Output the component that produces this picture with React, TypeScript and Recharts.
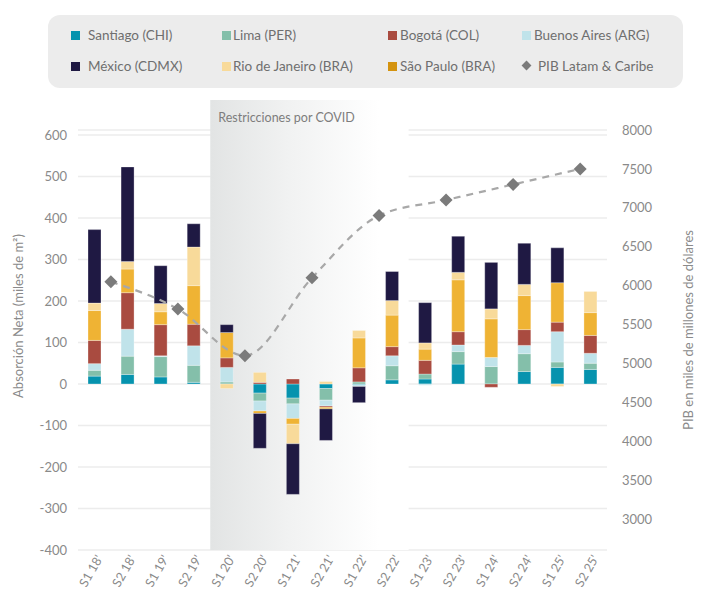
import React from "react";
import {
  ComposedChart,
  Bar,
  Line,
  XAxis,
  YAxis,
  CartesianGrid,
  ReferenceArea,
} from "recharts";

// semestres (eje X de las barras)
const periods = [
  "S1 18'", "S2 18'", "S1 19'", "S2 19'", "S1 20'", "S2 20'", "S1 21'", "S2 21'",
  "S1 22'", "S2 22'", "S1 23'", "S2 23'", "S1 24'", "S2 24'", "S1 25'", "S2 25'",
];

// absorción neta, miles de m2
const santiago = [19, 23, 17, 4, 0, -22, -34, -11, -2, 10, 12, 48, 0, 30, 40, 35];
const lima = [14, 44, 49, 41, 5, -19, -14, -28, 5, 34, 12, 30, 42, 43, 13, 15];
const buenosAires = [16, 65, 2, 47, 35, -24, -35, -14, -4, 24, -3, 16, 22, 20, 73, 24];
const bogota = [56, 88, 75, 52, 23, 4, 12, -3, 34, 22, 33, 32, -8, 38, 23, 43];
const saoPaulo = [72, 57, 31, 93, 61, -6, -14, -4, 72, 76, 27, 125, 93, 82, 95, 55];
const rio = [18, 18, 20, 93, -11, 24, -47, 6, 18, 35, 15, 18, 24, 27, -6, 51];
const mexico = [177, 228, 91, 56, 19, -84, -122, -76, -39, 70, 97, 87, 112, 99, 84, 0];

// PIB Latam & Caribe (anual)
const years = [2018, 2019, 2020, 2021, 2022, 2023, 2024, 2025];
const pib = [6050, 5700, 5100, 6100, 6900, 7100, 7300, 7500];

const leftTicks = [-400, -300, -200, -100, 0, 100, 200, 300, 400, 500, 600];
const rightTicks = [3000, 3500, 4000, 4500, 5000, 5500, 6000, 6500, 7000, 7500, 8000];

const data = periods.map((period, i) => ({
  period,
  santiago: santiago[i],
  lima: lima[i],
  buenosAires: buenosAires[i],
  bogota: bogota[i],
  saoPaulo: saoPaulo[i],
  rio: rio[i],
  mexico: mexico[i],
}));

const pibData = years.map((year, i) => ({ year, pib: pib[i] }));

// orden de apilado (de abajo hacia arriba)
const series = [
  { key: "santiago", color: "#0693ae" },
  { key: "lima", color: "#84bfaa" },
  { key: "buenosAires", color: "#c0e3ea" },
  { key: "bogota", color: "#a94b40" },
  { key: "saoPaulo", color: "#efb334" },
  { key: "rio", color: "#f8da9a" },
  { key: "mexico", color: "#1f1943" },
];

const legendItems = [
  { label: "Santiago (CHI)", color: "#0693ae", sq: 71, tx: 88, row: 0 },
  { label: "Lima (PER)", color: "#84bfaa", sq: 222, tx: 233, row: 0 },
  { label: "Bogotá (COL)", color: "#a94b40", sq: 388, tx: 400, row: 0 },
  { label: "Buenos Aires (ARG)", color: "#c0e3ea", sq: 522, tx: 534, row: 0 },
  { label: "México (CDMX)", color: "#1f1943", sq: 71, tx: 88, row: 1 },
  { label: "Rio de Janeiro (BRA)", color: "#f8da9a", sq: 222, tx: 233, row: 1 },
  { label: "São Paulo (BRA)", color: "#d4930f", sq: 388, tx: 400, row: 1 },
  { label: "PIB Latam & Caribe", color: "#7b7b7b", sq: 522, tx: 538, row: 1, diamond: true },
];

const FONT = "Lato, 'Open Sans', sans-serif";
const TICK = "#8a8a8a";

const XTick = (props: any) => {
  const { x, y, payload } = props;
  return (
    <g transform={`translate(${x + 5},${y - 2})`}>
      <text
        x={0}
        y={0}
        dy="0.35em"
        textAnchor="end"
        transform="rotate(-60)"
        fill={TICK}
        fontSize={12.5}
        fontFamily={FONT}
      >
        {payload.value}
      </text>
    </g>
  );
};

const Diamond = (props: any) => {
  const { cx, cy, index } = props;
  if (cx == null || cy == null) return <g key={index} />;
  const r = 6.5;
  return (
    <path
      key={index}
      d={`M${cx},${cy - r} L${cx + r},${cy} L${cx},${cy + r} L${cx - r},${cy} Z`}
      fill="#7b7b7b"
    />
  );
};

const LeftTitle = () => (
  <text
    x={18}
    y={316}
    transform="rotate(-90 18 316)"
    textAnchor="middle"
    dominantBaseline="central"
    fill={TICK}
    fontSize={13}
    fontFamily={FONT}
  >
    Absorción Neta (miles de m²)
  </text>
);

const RightTitle = () => (
  <text
    x={688}
    y={330}
    transform="rotate(-90 688 330)"
    textAnchor="middle"
    dominantBaseline="central"
    fill={TICK}
    fontSize={13}
    fontFamily={FONT}
  >
    PIB en miles de millones de dólares
  </text>
);

function LegendBox() {
  return (
    <div
      style={{
        position: "absolute",
        left: 48,
        top: 15,
        width: 635,
        height: 73,
        borderRadius: 12,
        background: "#ececec",
      }}
    >
      {legendItems.map((it) => {
        const cy = it.row === 0 ? 20 : 51;
        return (
          <React.Fragment key={it.label}>
            <div
              style={{
                position: "absolute",
                left: it.sq - 48,
                top: cy - 4.5 - (it.diamond ? 0.5 : 0),
                width: it.diamond ? 7 : 9,
                height: it.diamond ? 7 : 9,
                background: it.color,
                transform: it.diamond ? "translate(1px,1px) rotate(45deg)" : undefined,
              }}
            />
            <div
              style={{
                position: "absolute",
                left: it.tx - 48,
                top: cy - 9,
                height: 18,
                lineHeight: "18px",
                fontSize: 13.5,
                color: "#6f6f6f",
                fontFamily: FONT,
                whiteSpace: "nowrap",
              }}
            >
              {it.label}
            </div>
          </React.Fragment>
        );
      })}
    </div>
  );
}

export default function App() {
  return (
    <div
      style={{
        position: "absolute",
        left: 0,
        top: 0,
        width: 705,
        height: 596,
        background: "#ffffff",
        fontFamily: FONT,
      }}
    >
      {/* degradado para la franja COVID */}
      <svg width={0} height={0} style={{ position: "absolute" }}>
        <defs>
          <linearGradient id="covidShade" x1="0" y1="0" x2="1" y2="0">
            <stop offset="0%" stopColor="#e2e4e4" />
            <stop offset="40%" stopColor="#f1f2f2" />
            <stop offset="85%" stopColor="#ffffff" />
            <stop offset="100%" stopColor="#ffffff" />
          </linearGradient>
        </defs>
      </svg>
      <ComposedChart
        width={705}
        height={596}
        data={data}
        stackOffset="sign"
        margin={{ top: 130, right: 38, bottom: 0, left: 28 }}
      >
        <ReferenceArea
          yAxisId="left"
          x1="S1 20'"
          x2="S2 22'"
          y1={-400}
          y2={684}
          ifOverflow="visible"
          fill="url(#covidShade)"
          fillOpacity={1}
          stroke="none"
          label={{
            value: "Restricciones por COVID",
            position: "insideTopLeft",
            fill: "#7d7d7d",
            fontSize: 12.5,
            offset: 8,
            dy: 5,
            fontFamily: FONT,
          }}
        />
        <CartesianGrid
          yAxisId="left"
          vertical={false}
          stroke="#ececec"
          strokeWidth={1.5}
        />
        <XAxis
          dataKey="period"
          axisLine={false}
          tickLine={false}
          interval={0}
          tick={<XTick />}
          height={46}
        />
        <XAxis
          xAxisId="yr"
          type="number"
          dataKey="year"
          domain={[2017.51, 2025.4]}
          allowDataOverflow
          hide
        />
        <YAxis
          yAxisId="left"
          width={50}
          domain={[-400, 612]}
          ticks={leftTicks}
          allowDataOverflow
          axisLine={false}
          tickLine={false}
          tickMargin={5}
          tick={{ fill: TICK, fontSize: 13, fontFamily: FONT }}
          label={<LeftTitle />}
        />
        <YAxis
          yAxisId="right"
          orientation="right"
          width={60}
          domain={[2602, 8000]}
          ticks={rightTicks}
          allowDataOverflow
          axisLine={false}
          tickLine={false}
          tickMargin={9}
          tick={{ fill: TICK, fontSize: 13, fontFamily: FONT, textAnchor: "start" }}
          label={<RightTitle />}
        />
        {series.map((s) => (
          <Bar
            key={s.key}
            yAxisId="left"
            dataKey={s.key}
            stackId="a"
            fill={s.color}
            stroke="#ffffff"
            strokeOpacity={0.6}
            strokeWidth={0.5}
            barSize={13}
            isAnimationActive={false}
          />
        ))}
        <Line
          data={pibData}
          xAxisId="yr"
          yAxisId="right"
          dataKey="pib"
          type="monotone"
          stroke="#a8a8a8"
          strokeWidth={2.2}
          strokeDasharray="7 6"
          dot={<Diamond />}
          activeDot={false}
          isAnimationActive={false}
        />
      </ComposedChart>
      <LegendBox />
    </div>
  );
}
